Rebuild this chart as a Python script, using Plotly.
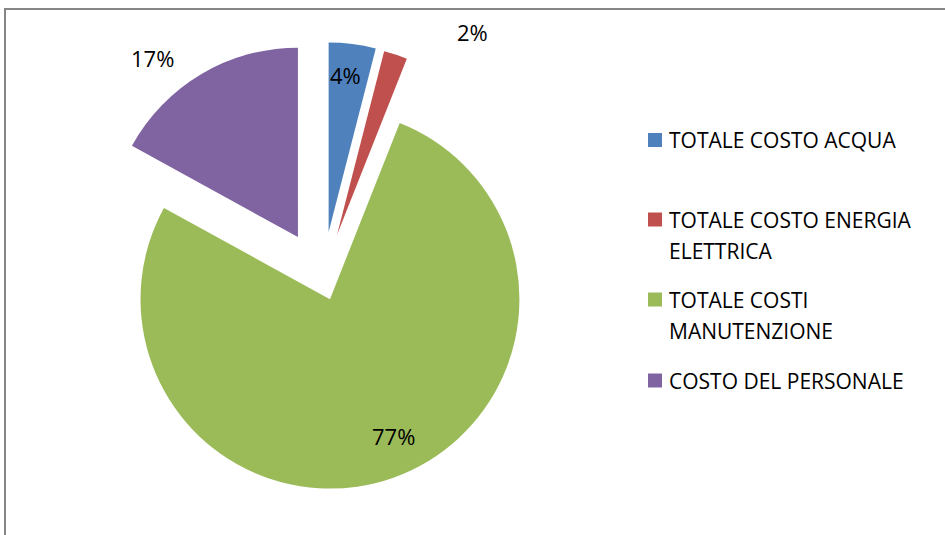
import textwrap
import plotly.graph_objects as go

# Ripartizione dei costi (valori percentuali)
categorie = [
    "TOTALE COSTO ACQUA",
    "TOTALE COSTO ENERGIA ELETTRICA",
    "TOTALE COSTI MANUTENZIONE",
    "COSTO DEL PERSONALE",
]
percentuali = [4, 2, 77, 17]
colori = ["#4F81BD", "#C0504D", "#9BBB59", "#8064A2"]
esplosione = [0.25, 0.245, 0.113, 0.257]

W, H = 945, 535


def px(x):
    return x / W


def py(y):
    return 1 - y / H


fig = go.Figure(
    go.Pie(
        labels=categorie,
        values=percentuali,
        marker=dict(colors=colori, line=dict(width=0)),
        pull=esplosione,
        sort=False,
        direction="clockwise",
        rotation=0,
        textinfo="none",
        hoverinfo="label+percent",
        domain=dict(x=[0.0895, 0.5935], y=[0.03, 0.927]),
        showlegend=False,
    )
)

annotations = []
shapes = []

# Etichette percentuali delle fette
label_pos = [(345, 75), (472, 32), (393, 436), (152, 58)]
for val, (lx, ly) in zip(percentuali, label_pos):
    annotations.append(
        dict(
            x=px(lx), y=py(ly), xref="paper", yref="paper",
            text=f"{val}%", showarrow=False,
            xanchor="center", yanchor="middle",
            font=dict(family="Open Sans", size=22, color="#000000"),
        )
    )

# Legenda a destra
legend_y = [140, 219.5, 299.5, 380.5]
line_gap = 31
for nome, col, ly in zip(categorie, colori, legend_y):
    shapes.append(
        dict(
            type="rect", xref="paper", yref="paper",
            x0=px(648), x1=px(662), y0=py(ly - 7), y1=py(ly + 7),
            fillcolor=col, line=dict(width=0),
        )
    )
    for k, riga in enumerate(textwrap.wrap(nome, width=20)):
        annotations.append(
            dict(
                x=px(667), y=py(ly + k * line_gap), xref="paper", yref="paper",
                text=riga, showarrow=False,
                xanchor="left", yanchor="middle",
                font=dict(family="Open Sans", size=21, color="#000000"),
            )
        )

# Cornice dell'area grafico
shapes.append(
    dict(
        type="rect", xref="paper", yref="paper",
        x0=px(5), x1=px(960), y0=py(545), y1=py(9),
        line=dict(color="#868686", width=2), fillcolor="rgba(0,0,0,0)",
        layer="below",
    )
)

fig.update_layout(
    width=W, height=H,
    margin=dict(l=0, r=0, t=0, b=0),
    paper_bgcolor="#FFFFFF",
    plot_bgcolor="#FFFFFF",
    annotations=annotations,
    shapes=shapes,
    showlegend=False,
)

fig.write_html("out.html")
